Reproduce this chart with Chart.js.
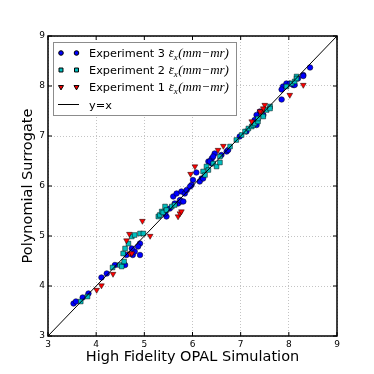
<!DOCTYPE html>
<html>
<head>
<meta charset="utf-8">
<script src="https://cdn.jsdelivr.net/npm/chart.js@4.4.0/dist/chart.umd.min.js"></script>
<style>
    html, body { margin: 0; padding: 0; background: #fff; }
    canvas { display: block; }
</style>
</head>
<body>
<canvas id="chart" width="374" height="374"></canvas>
<script>
// Experiment 3 (blue circles)
const exp3X = [3.53, 3.58, 3.72, 3.84, 4.11, 4.22, 4.39, 4.60, 4.63, 4.76, 4.91, 4.87, 4.80, 4.91, 4.74,
    5.46, 5.53, 5.70, 5.77, 5.60, 5.67, 5.77, 5.84, 5.88, 5.74, 5.63, 5.81, 5.43, 6.01, 5.98, 5.95, 6.19,
    6.15, 6.40, 6.08, 6.33, 6.40, 6.46, 6.71, 6.60, 6.36, 6.43, 6.22, 6.74, 6.98, 7.12, 7.33, 7.40, 7.33,
    7.29, 7.47, 7.85, 7.88, 7.95, 8.02, 8.09, 8.19, 8.30, 8.44, 7.85, 8.12, 8.30];
const exp3Y = [3.65, 3.69, 3.77, 3.85, 4.17, 4.25, 4.42, 4.42, 4.62, 4.62, 4.85, 4.79, 4.69, 4.62, 4.75,
    5.39, 5.55, 5.65, 5.69, 5.79, 5.85, 5.89, 5.85, 5.92, 5.72, 5.65, 5.69, 5.45, 6.12, 6.02, 5.99, 6.15,
    6.09, 6.45, 6.27, 6.49, 6.55, 6.65, 6.69, 6.62, 6.49, 6.59, 6.15, 6.72, 6.99, 7.09, 7.22, 7.49, 7.42,
    7.32, 7.42, 7.73, 7.99, 8.05, 8.05, 8.02, 8.15, 8.22, 8.37, 7.93, 8.02, 8.20];

// Experiment 2 (cyan squares)
const exp2X = [3.68, 3.82, 4.34, 4.49, 4.53, 4.58, 4.56, 4.60, 4.67, 4.74, 4.80, 4.91, 4.98, 5.29, 5.32,
    5.36, 5.39, 5.43, 5.46, 5.57, 5.63, 6.22, 6.26, 6.29, 6.33, 6.43, 6.50, 6.57, 6.57, 6.78, 6.91, 7.02,
    7.09, 7.16, 7.23, 7.26, 7.29, 7.36, 7.36, 7.43, 7.47, 7.54, 7.61, 7.61, 7.95, 8.06, 8.12, 8.16, 8.16];
const exp2Y = [3.69, 3.79, 4.37, 4.42, 4.39, 4.49, 4.65, 4.75, 4.85, 4.99, 5.02, 5.05, 5.05, 5.39, 5.42,
    5.49, 5.47, 5.59, 5.52, 5.59, 5.62, 6.29, 6.22, 6.39, 6.32, 6.45, 6.39, 6.47, 6.59, 6.79, 6.92, 7.02,
    7.09, 7.15, 7.19, 7.22, 7.25, 7.29, 7.35, 7.45, 7.39, 7.52, 7.59, 7.55, 7.99, 8.05, 8.09, 8.19, 8.15];

// Experiment 1 (red triangles)
const exp1X = [4.01, 4.11, 4.35, 4.70, 4.63, 4.69, 4.96, 5.12, 4.74, 5.70, 5.74, 5.77, 6.05, 5.96, 6.53,
    6.64, 7.23, 7.43, 7.50, 7.47, 7.40, 8.30, 8.02];
const exp1Y = [3.92, 4.01, 4.24, 4.65, 4.91, 5.04, 5.30, 5.00, 4.65, 5.39, 5.45, 5.49, 6.39, 6.24, 6.72,
    6.80, 7.29, 7.49, 7.62, 7.55, 7.49, 8.02, 7.82];

const identityX = [3, 9];
const axisTicks = [3, 4, 5, 6, 7, 8, 9];

function toPoints(xs, ys) {
    return xs.map((x, i) => ({ x, y: ys[i] }));
}

const markerEdge = { borderColor: '#000000', borderWidth: 0.5 };

const datasets = [
    {
        label: 'y=x',
        type: 'line',
        data: toPoints(identityX, identityX),
        borderColor: '#000000',
        borderWidth: 1,
        pointRadius: 0,
        order: 0
    },
    {
        label: 'Experiment 1',
        data: toPoints(exp1X, exp1Y),
        backgroundColor: '#ff0000',
        pointStyle: 'triangle',
        rotation: 180,
        pointRadius: 3.3,
        ...markerEdge,
        order: 1
    },
    {
        label: 'Experiment 2',
        data: toPoints(exp2X, exp2Y),
        backgroundColor: '#00bfbf',
        pointStyle: 'rect',
        pointRadius: 3.3,
        ...markerEdge,
        order: 2
    },
    {
        label: 'Experiment 3',
        data: toPoints(exp3X, exp3Y),
        backgroundColor: '#0000ff',
        pointStyle: 'circle',
        pointRadius: 2.8,
        ...markerEdge,
        order: 3
    }
];

const whiteBackground = {
    id: 'whiteBackground',
    beforeDraw(chart) {
        const { ctx, width, height } = chart;
        ctx.save();
        ctx.fillStyle = '#ffffff';
        ctx.fillRect(0, 0, width, height);
        ctx.restore();
    }
};

// frame with inward ticks on all four sides, plus the legend inside the plot
const frameAndLegend = {
    id: 'frameAndLegend',
    afterDraw(chart) {
        const { ctx, chartArea } = chart;
        const xs = chart.scales.x;
        const ys = chart.scales.y;
        const { left, right, top, bottom } = chartArea;
        ctx.save();

        ctx.strokeStyle = '#000000';
        ctx.lineWidth = 1;
        ctx.beginPath();
        for (const t of axisTicks) {
            const px = xs.getPixelForValue(t);
            const py = ys.getPixelForValue(t);
            ctx.moveTo(px, bottom); ctx.lineTo(px, bottom - 4);
            ctx.moveTo(px, top); ctx.lineTo(px, top + 4);
            ctx.moveTo(left, py); ctx.lineTo(left + 4, py);
            ctx.moveTo(right, py); ctx.lineTo(right - 4, py);
        }
        ctx.stroke();

        ctx.lineWidth = 1.5;
        ctx.strokeRect(left, top, right - left, bottom - top);

        // legend box
        ctx.fillStyle = '#ffffff';
        ctx.strokeStyle = '#8c8c8c';
        ctx.lineWidth = 1;
        ctx.fillRect(53.5, 42.5, 183, 73);
        ctx.strokeRect(53.5, 42.5, 183, 73);

        const rows = [
            { ds: datasets[3], name: 'Experiment 3 ', y: 53, r: 2.3 },
            { ds: datasets[2], name: 'Experiment 2 ', y: 70, r: 2.8 },
            { ds: datasets[1], name: 'Experiment 1 ', y: 87, r: 2.9 }
        ];

        for (const row of rows) {
            ctx.fillStyle = row.ds.backgroundColor;
            ctx.strokeStyle = '#000000';
            for (const mx of [61, 76.5]) {
                Chart.helpers.drawPoint(ctx, {
                    pointStyle: row.ds.pointStyle,
                    radius: row.r,
                    rotation: row.ds.rotation || 0,
                    borderWidth: 0.5
                }, mx, row.y);
            }

            const baseline = row.y + 4;
            ctx.fillStyle = '#000000';
            ctx.textBaseline = 'alphabetic';
            ctx.font = '11.3px "DejaVu Sans"';
            ctx.fillText(row.name, 89, baseline);
            let x = 89 + ctx.measureText(row.name).width;

            ctx.font = 'italic 13px "Liberation Serif"';
            ctx.fillText('\u03b5', x, baseline);
            const epsW = ctx.measureText('\u03b5').width;
            ctx.font = '11px "Liberation Serif"';
            ctx.fillText('\u02dc', x + 1, baseline + 0.5);
            x += epsW;
            ctx.font = 'italic 9px "Liberation Serif"';
            ctx.fillText('x', x, baseline + 2.5);
            x += ctx.measureText('x').width + 0.5;
            ctx.font = 'italic 13px "Liberation Serif"';
            ctx.fillText('(mm\u2212mr)', x, baseline);
        }

        ctx.strokeStyle = '#000000';
        ctx.lineWidth = 1;
        ctx.beginPath();
        ctx.moveTo(58, 104.5);
        ctx.lineTo(79, 104.5);
        ctx.stroke();
        ctx.fillStyle = '#000000';
        ctx.font = '11.3px "DejaVu Sans"';
        ctx.fillText('y=x', 89, 108.5);

        ctx.restore();
    }
};

function axisOptions(title, fit) {
    return {
        type: 'linear',
        min: 3,
        max: 9,
        afterFit: fit,
        ticks: {
            stepSize: 1,
            autoSkip: false,
            padding: 3,
            color: '#000000',
            font: { family: '"DejaVu Sans"', size: 9 },
            callback: (value) => String(value)
        },
        grid: {
            color: '#c4c4c4',
            lineWidth: 1,
            drawTicks: false
        },
        border: {
            display: false,
            dash: [1, 2]
        },
        title: {
            display: true,
            text: title,
            color: '#000000',
            font: { family: '"DejaVu Sans"', size: 14.5 },
            padding: { top: 20, bottom: 8 }
        }
    };
}

new Chart(document.getElementById('chart'), {
    type: 'scatter',
    data: { datasets },
    options: {
        responsive: false,
        animation: false,
        layout: {
            padding: { left: 0, top: 36, right: 37, bottom: 0 }
        },
        plugins: {
            legend: { display: false },
            tooltip: { enabled: false }
        },
        scales: {
            x: axisOptions('High Fidelity OPAL Simulation', (scale) => { scale.height = 38; }),
            y: axisOptions('Polynomial Surrogate', (scale) => { scale.width = 48; })
        }
    },
    plugins: [whiteBackground, frameAndLegend]
});
</script>
</body>
</html>
